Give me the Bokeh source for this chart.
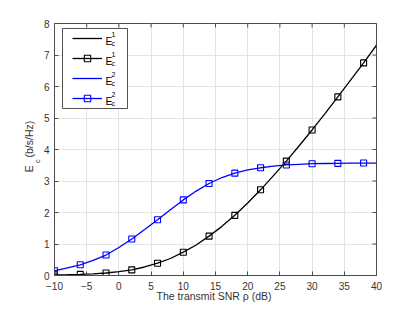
from bokeh.plotting import figure
from bokeh.models import (LinearAxis, FixedTicker, Label, Legend, LegendItem,
                          BoxAnnotation, Range1d, ColumnDataSource)
from bokeh.embed import file_html
from bokeh.resources import INLINE

# ---------------- data ----------------
snr_db = [-10, -8, -6, -4, -2, 0, 2, 4, 6, 8, 10, 12, 14, 16, 18, 20,
          22, 24, 26, 28, 30, 32, 34, 36, 38, 40]
ec1 = [0.02, 0.025, 0.035, 0.05, 0.08, 0.12, 0.18, 0.27, 0.39, 0.54, 0.74,
       0.97, 1.25, 1.56, 1.91, 2.30, 2.72, 3.17, 3.63, 4.12, 4.62, 5.14,
       5.67, 6.21, 6.75, 7.31]
ec2 = [0.15, 0.24, 0.34, 0.48, 0.65, 0.89, 1.16, 1.46, 1.77, 2.09, 2.40,
       2.68, 2.92, 3.11, 3.25, 3.35, 3.42, 3.47, 3.51, 3.53, 3.55, 3.555,
       3.56, 3.565, 3.57, 3.57]
# markers every 4 dB starting at -10 dB
marker_snr = snr_db[0:25:2]
marker_ec1 = ec1[0:25:2]
marker_ec2 = ec2[0:25:2]

x_ticks = [-10, -5, 0, 5, 10, 15, 20, 25, 30, 35, 40]
y_ticks = [0, 1, 2, 3, 4, 5, 6, 7, 8]
legend_sup = ["1", "1", "2", "2"]
x_title = "The transmit SNR  \u03c1 (dB)"
y_title_main = {3.39: "E", 4.33: "(b/s/Hz)"}
y_title_sub = {3.63: "c"}

FONT = "Liberation Sans"
AX = "#4d4d4d"
TXT = "#333333"
GRID = "#e3e3e3"
BLUE = "#0000ff"
BLACK = "#000000"

p = figure(width=399, height=304, x_range=Range1d(-10, 40), y_range=Range1d(0, 8),
           output_backend="svg", toolbar_location=None,
           min_border_left=54, min_border_right=23, min_border_top=23, min_border_bottom=27)
p.outline_line_color = AX
p.background_fill_color = "white"

for ax, ticks in ((p.xaxis[0], x_ticks), (p.yaxis[0], y_ticks)):
    ax.ticker = FixedTicker(ticks=ticks)
    ax.major_tick_in = 4
    ax.major_tick_out = 0
    ax.minor_tick_line_color = None
    ax.axis_line_color = AX
    ax.major_tick_line_color = AX
    ax.major_label_text_font = FONT
    ax.major_label_text_font_size = "10px"
    ax.major_label_text_color = TXT
p.xaxis[0].major_label_standoff = 6
p.yaxis[0].major_label_standoff = 5

xa = p.xaxis[0]
xa.axis_label = x_title
xa.axis_label_text_font = FONT
xa.axis_label_text_font_size = "10.5px"
xa.axis_label_text_font_style = "normal"
xa.axis_label_text_color = TXT
xa.axis_label_standoff = -3

p.xgrid.ticker = FixedTicker(ticks=x_ticks)
p.ygrid.ticker = FixedTicker(ticks=y_ticks)
p.xgrid.grid_line_color = GRID
p.ygrid.grid_line_color = GRID

# y-axis title built from tick labels of two label-only axes (subscript c, then E (b/s/Hz))
for labels, size, standoff in ((y_title_sub, "7.5px", -2), (y_title_main, "10.5px", -5)):
    a = LinearAxis(ticker=FixedTicker(ticks=list(labels.keys())),
                   major_label_overrides=labels,
                   major_label_orientation="parallel",
                   major_label_standoff=standoff,
                   major_tick_in=0, major_tick_out=0,
                   axis_line_color=None, major_tick_line_color=None,
                   minor_tick_line_color=None,
                   major_label_text_font=FONT, major_label_text_font_size=size,
                   major_label_text_color=TXT)
    p.add_layout(a, "left")

line_src = ColumnDataSource(dict(x=snr_db, y1=ec1, y2=ec2))
mark_src = ColumnDataSource(dict(x=marker_snr, y1=marker_ec1, y2=marker_ec2))

# inward ticks on the top and right edges (half of each dash is clipped by the frame)
top_src = ColumnDataSource(dict(x=x_ticks, y=[y_ticks[-1]] * len(x_ticks)))
right_src = ColumnDataSource(dict(x=[x_ticks[-1]] * len(y_ticks), y=y_ticks))
p.scatter("x", "y", source=top_src, marker="dash", size=8, angle=1.5707963,
          line_color=AX, line_width=1)
p.scatter("x", "y", source=right_src, marker="dash", size=8,
          line_color=AX, line_width=1)

l1 = p.line("x", "y1", source=line_src, line_color=BLACK, line_width=1.3)
l2 = p.line("x", "y2", source=line_src, line_color=BLUE, line_width=1.3)
m1 = p.scatter("x", "y1", source=mark_src, marker="square", size=6,
               fill_color=None, line_color=BLACK, line_width=1.1)
m2 = p.scatter("x", "y2", source=mark_src, marker="square", size=6,
               fill_color=None, line_color=BLUE, line_width=1.1)

# legend frame
p.add_layout(BoxAnnotation(left=8, right=73, top=247, bottom=167,
                           left_units="screen", right_units="screen",
                           top_units="screen", bottom_units="screen",
                           fill_color="white", fill_alpha=1.0,
                           line_color="#262626", line_width=0.8, line_alpha=1.0,
                           level="annotation"))

legend = Legend(items=[LegendItem(label=" ", renderers=[l1]),
                       LegendItem(label=" ", renderers=[l1, m1]),
                       LegendItem(label=" ", renderers=[l2]),
                       LegendItem(label=" ", renderers=[l2, m2])],
                location=(8, 159), padding=10, spacing=4,
                glyph_width=30, glyph_height=16, label_width=0, label_height=16,
                label_standoff=0, label_text_font_size="1px",
                background_fill_alpha=0, border_line_alpha=0, margin=0)
p.add_layout(legend, "center")

# legend texts E^k_c
for i, sup in enumerate(legend_sup):
    yc = 277 - (40 + 20 * i)
    p.add_layout(Label(x=51, y=yc - 2, x_units="screen", y_units="screen", text="E",
                       text_font=FONT, text_font_size="10.5px", text_color=BLACK,
                       text_baseline="alphabetic", text_align="left"))
    p.add_layout(Label(x=57, y=yc + 4, x_units="screen", y_units="screen", text=sup,
                       text_font=FONT, text_font_size="7px", text_color=BLACK,
                       text_baseline="alphabetic", text_align="left"))
    p.add_layout(Label(x=57, y=yc - 5, x_units="screen", y_units="screen", text="c",
                       text_font=FONT, text_font_size="7px", text_color=BLACK,
                       text_baseline="alphabetic", text_align="left"))

open("out.html", "w").write(file_html(p, INLINE))
